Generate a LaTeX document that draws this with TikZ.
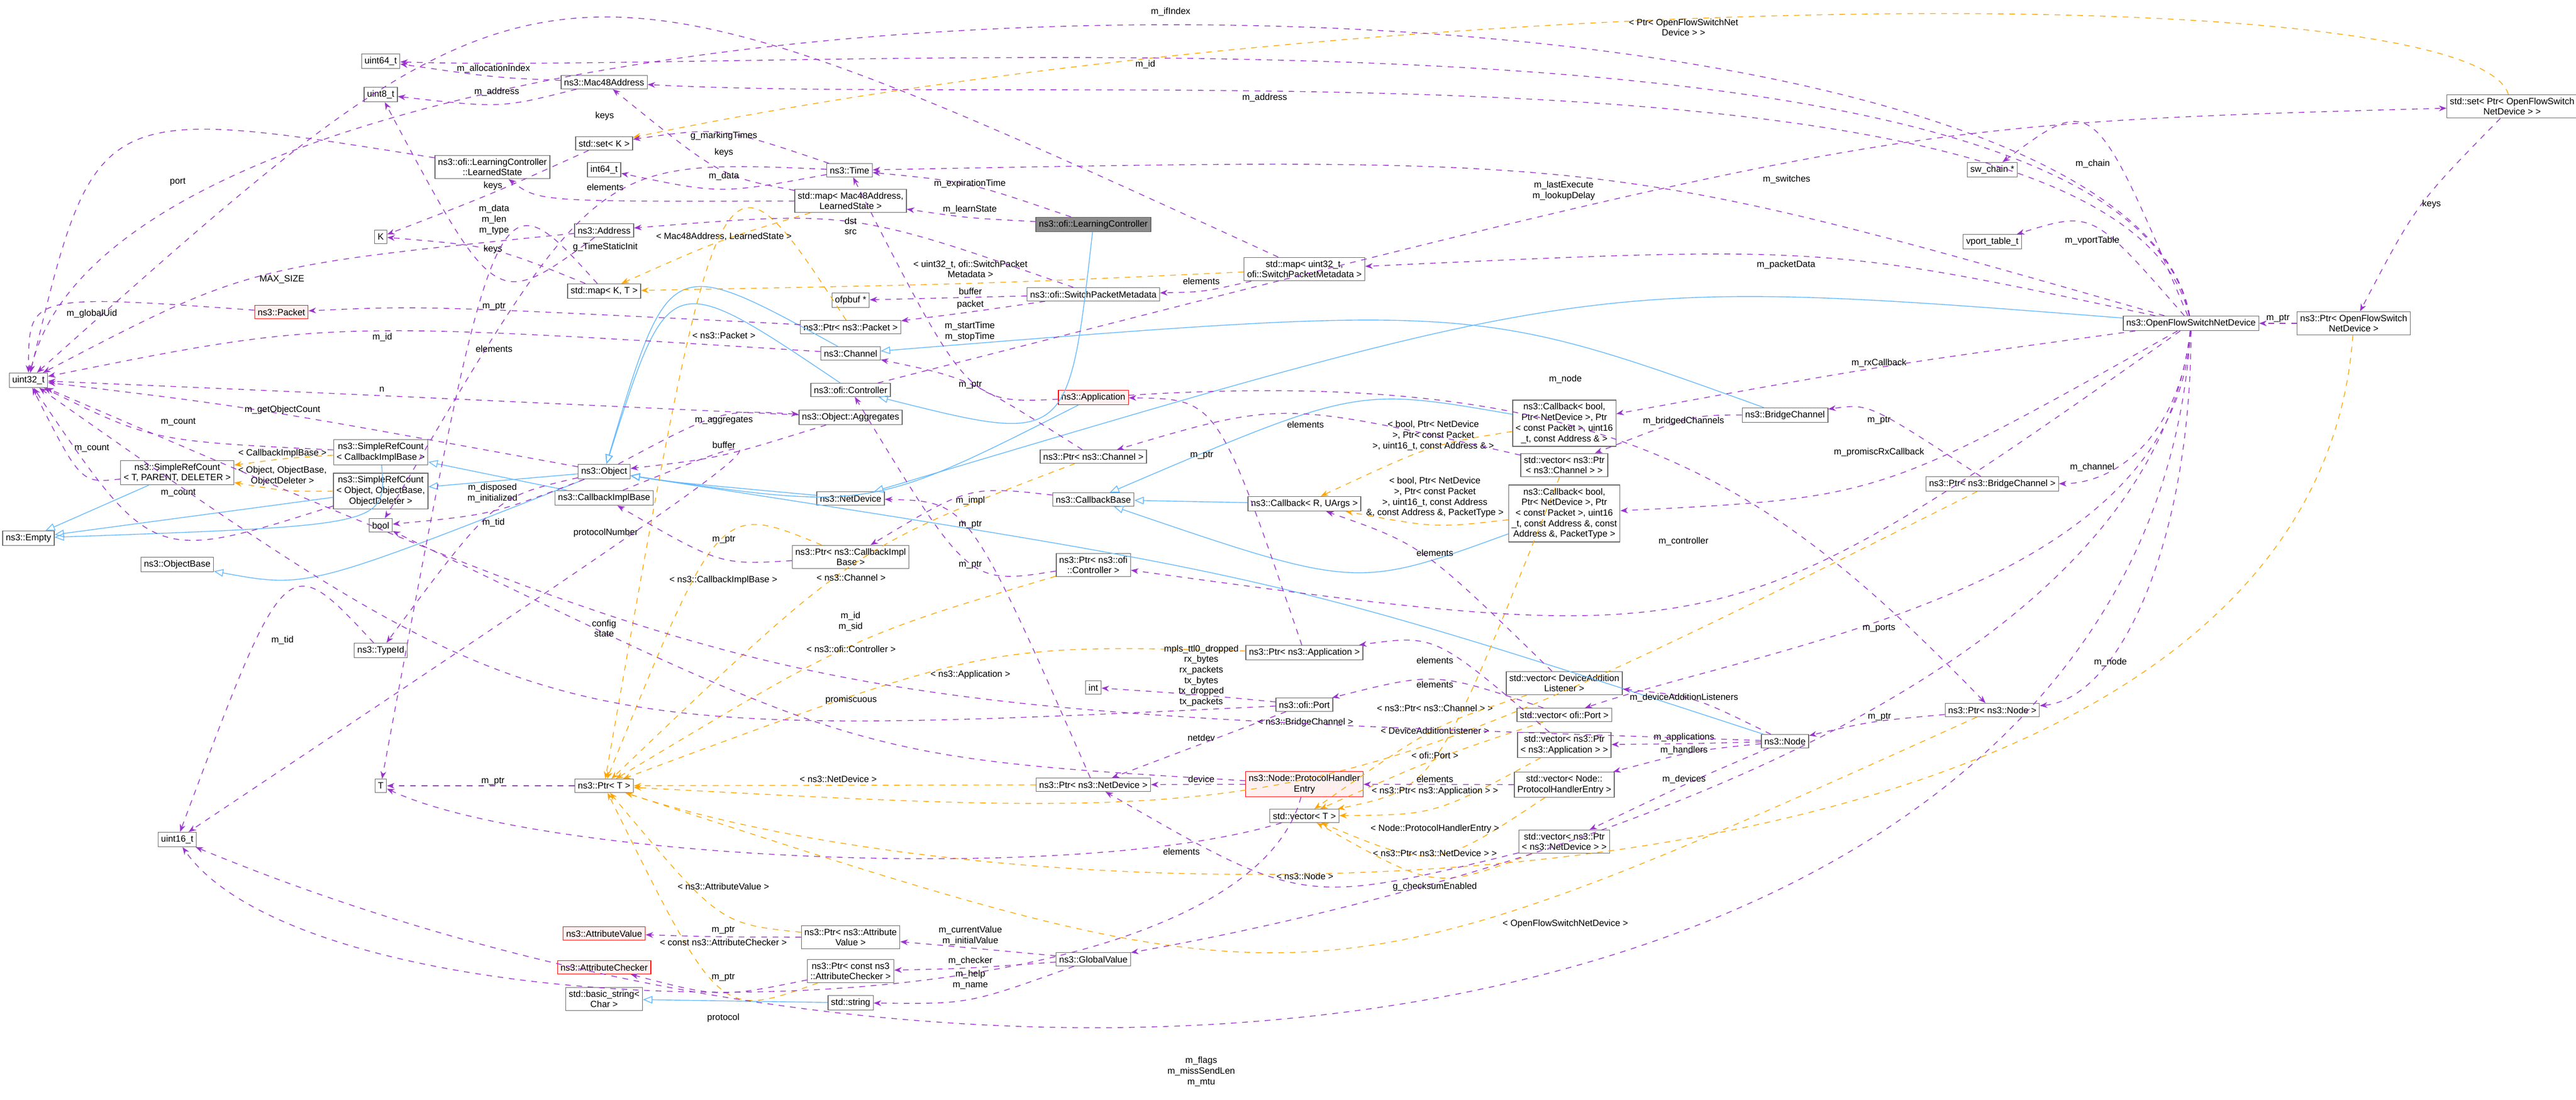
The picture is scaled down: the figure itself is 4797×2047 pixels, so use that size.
\documentclass[tikz,border=0pt]{standalone}
\usepackage{fontspec}
\setmainfont{Liberation Sans}
\usetikzlibrary{arrows.meta,calc}
\definecolor{pc}{HTML}{9A32CD}
\definecolor{oc}{HTML}{FFA500}
\definecolor{bc}{HTML}{63B8FF}
\newcommand\myed[6]{\draw[#1] (#2) .. controls ($2*(#4)-0.5*(#2)-0.5*(#3)$) .. (#3); \node[lb] at (#5) {#6};}
\newcommand\myen[4]{\draw[#1] (#2) .. controls ($2*(#4)-0.5*(#2)-0.5*(#3)$) .. (#3);}
\begin{document}
\begin{tikzpicture}[x=0.01cm,y=-0.01cm,
 every node/.style={font=\fontsize{4.8}{5.6}\selectfont},
 box/.style={draw=black!60,fill=white,inner sep=1.6pt,align=center,minimum height=7pt},
 redbox/.style={box,draw=red,fill=red!6},
 graybox/.style={box,fill=black!45},
 pe/.style={draw=pc,dashed,-{Stealth[length=4pt,width=3pt]}},
 oe/.style={draw=oc,dashed,-{Stealth[length=4pt,width=3pt]}},
 be/.style={draw=bc,-{Triangle[open,length=5pt,width=4pt]}},
 lb/.style={fill=none,align=center,inner sep=1pt}]
\useasboundingbox (0,0) rectangle (4797,2047);
% nodes
\node[box] (u64) at (709,114) {uint64\_t};
\node[box] (mac) at (1125,153) {ns3::Mac48Address};
\node[box] (u8) at (709,176) {uint8\_t};
\node[box] (setK) at (1125,267) {std::set< K >};
\node[box] (ls) at (917,311) {ns3::ofi::LearningController\\::LearnedState};
\node[box] (i64) at (1125,316) {int64\_t};
\node[box] (K) at (709,441) {K};
\node[box] (addr) at (1125,429) {ns3::Address};
\node[box] (mapKT) at (1125,542) {std::map< K, T >};
\node[redbox] (pkt) at (524,581) {ns3::Packet};
\node[box] (u32) at (53,708) {uint32\_t};
\node[box] (srcC) at (709,842) {ns3::SimpleRefCount\\< CallbackImplBase >};
\node[box] (srcT) at (330,880) {ns3::SimpleRefCount\\< T, PARENT, DELETER >};
\node[box] (srcO) at (709,914) {ns3::SimpleRefCount\\< Object, ObjectBase,\\ObjectDeleter >};
\node[box] (obj) at (1125,878) {ns3::Object};
\node[box] (cib) at (1125,927) {ns3::CallbackImplBase};
\node[box] (bool) at (709,978) {bool};
\node[box] (empty) at (53,1002) {ns3::Empty};
\node[box] (ob) at (330,1051) {ns3::ObjectBase};
\node[box] (tid) at (709,1211) {ns3::TypeId};
\node[box] (T) at (709,1463) {T};
\node[box] (ptrT) at (1125,1463) {ns3::Ptr< T >};
\node[box] (u16) at (330,1563) {uint16\_t};
\node[redbox] (av) at (1125,1738) {ns3::AttributeValue};
\node[redbox] (ac) at (1125,1801) {ns3::AttributeChecker};
\node[box] (bstr) at (1125,1860) {std::basic\_string<\\Char >};
\node[box] (time) at (1582,317) {ns3::Time};
\node[box] (mapML) at (1584,374) {std::map< Mac48Address,\\LearnedState >};
\node[graybox] (lc) at (2036,418) {ns3::ofi::LearningController};
\node[box] (mapUS) at (2429,501) {std::map< uint32\_t,\\ofi::SwitchPacketMetadata >};
\node[box] (ofp) at (1584,559) {ofpbuf *};
\node[box] (spm) at (2036,548) {ns3::ofi::SwitchPacketMetadata};
\node[box] (pPkt) at (1584,609) {ns3::Ptr< ns3::Packet >};
\node[box] (chan) at (1584,658) {ns3::Channel};
\node[box] (ctrl) at (1584,726) {ns3::ofi::Controller};
\node[box] (agg) at (1584,777) {ns3::Object::Aggregates};
\node[redbox] (app) at (2036,740) {ns3::Application};
\node[box] (pChan) at (2036,850) {ns3::Ptr< ns3::Channel >};
\node[box] (nd) at (1584,928) {ns3::NetDevice};
\node[box] (cbb) at (2036,930) {ns3::CallbackBase};
\node[box] (cbR) at (2429,938) {ns3::Callback< R, UArgs >};
\node[box] (pCib) at (1584,1037) {ns3::Ptr< ns3::CallbackImpl\\Base >};
\node[box] (pCtrl) at (2036,1052) {ns3::Ptr< ns3::ofi\\::Controller >};
\node[box] (pApp) at (2429,1215) {ns3::Ptr< ns3::Application >};
\node[box] (int) at (2036,1280) {int};
\node[box] (port) at (2429,1312) {ns3::ofi::Port};
\node[box] (setP) at (4678,198) {std::set< Ptr< OpenFlowSwitch\\NetDevice > >};
\node[box] (chain) at (3710,316) {sw\_chain *};
\node[box] (vport) at (3710,450) {vport\_table\_t};
\node[box] (ofs) at (4080,602) {ns3::OpenFlowSwitchNetDevice};
\node[box] (pOfs) at (4383,602) {ns3::Ptr< OpenFlowSwitch\\NetDevice >};
\node[box] (cb1) at (2913,788) {ns3::Callback< bool,\\Ptr< NetDevice >, Ptr\\< const Packet >, uint16\\\_t, const Address \& >};
\node[box] (bch) at (3324,773) {ns3::BridgeChannel};
\node[box] (vChan) at (2913,866) {std::vector< ns3::Ptr\\< ns3::Channel > >};
\node[box] (cb2) at (2913,956) {ns3::Callback< bool,\\Ptr< NetDevice >, Ptr\\< const Packet >, uint16\\\_t, const Address \&, const\\Address \&, PacketType >};
\node[box] (pBch) at (3710,901) {ns3::Ptr< ns3::BridgeChannel >};
\node[box] (vDal) at (2913,1272) {std::vector< DeviceAddition\\Listener >};
\node[box] (vPort) at (2913,1331) {std::vector< ofi::Port >};
\node[box] (vApp) at (2913,1387) {std::vector< ns3::Ptr\\< ns3::Application > >};
\node[box] (node) at (3324,1380) {ns3::Node};
\node[redbox] (phe) at (2429,1460) {ns3::Node::ProtocolHandler\\Entry};
\node[box] (pNd) at (2036,1461) {ns3::Ptr< ns3::NetDevice >};
\node[box] (vPhe) at (2913,1461) {std::vector< Node::\\ProtocolHandlerEntry >};
\node[box] (vT) at (2429,1519) {std::vector< T >};
\node[box] (vNd) at (2913,1567) {std::vector< ns3::Ptr\\< ns3::NetDevice > >};
\node[box] (gv) at (2036,1786) {ns3::GlobalValue};
\node[box] (pAv) at (1584,1745) {ns3::Ptr< ns3::Attribute\\Value >};
\node[box] (pAc) at (1584,1808) {ns3::Ptr< const ns3\\::AttributeChecker >};
\node[box] (str) at (1584,1867) {std::string};
\node[box] (pNode) at (3710,1322) {ns3::Ptr< ns3::Node >};

% blue inheritance
\myen{be}{lc}{ctrl}{1900,700}
\myen{be}{ctrl}{obj}{1300,650}
\myen{be}{chan}{obj}{1300,620}
\myen{be}{bch}{chan}{2600,640}
\myen{be}{ofs}{nd}{2900,640}
\myen{be}{nd}{obj}{1300,900}
\myen{be}{app}{obj}{1600,880}
\myen{be}{node}{obj}{2300,1100}
\draw[be] (obj) -- (srcO);
\myen{be}{obj}{ob}{650,1030}
\draw[be] (cib) -- (srcC);
\draw[be] (srcT) -- (empty);
\myen{be}{srcC}{empty}{550,950}
\draw[be] (srcO) -- (empty);
\draw[be] (cbR) -- (cbb);
\myen{be}{cb1}{cbb}{2500,790}
\myen{be}{cb2}{cbb}{2500,1020}
\draw[be] (str) -- (bstr);

% orange template edges
\draw[oe] (setP) .. controls (4600,-50) and (2500,-20) .. (setK); \node[lb] at (3135,51) {< Ptr< OpenFlowSwitchNet\\Device > >};
\myed{oe}{mapML}{mapKT}{1348,452}{1348,440}{< Mac48Address, LearnedState >}
\myed{oe}{mapUS}{mapKT}{1807,525}{1807,501}{< uint32\_t, ofi::SwitchPacket\\Metadata >}
\myed{oe}{pPkt}{ptrT}{1348,636}{1348,624}{< ns3::Packet >}
\myed{oe}{pChan}{ptrT}{1585,1088}{1585,1075}{< ns3::Channel >}
\myed{oe}{pCib}{ptrT}{1347,1093}{1347,1080}{< ns3::CallbackImplBase >}
\myed{oe}{pCtrl}{ptrT}{1585,1221}{1585,1208}{< ns3::ofi::Controller >}
\myed{oe}{pApp}{ptrT}{1807,1269}{1807,1256}{< ns3::Application >}
\draw[oe] (pNd) -- (ptrT); \node[lb] at (1561,1450) {< ns3::NetDevice >};
\myed{oe}{pBch}{ptrT}{2431,1358}{2431,1345}{< ns3::BridgeChannel >}
\myed{oe}{pNode}{ptrT}{2430,1643}{2430,1631}{< ns3::Node >}
\draw[oe] (pOfs) .. controls (4300,1750) and (2000,1750) .. (ptrT); \node[lb] at (2915,1720) {< OpenFlowSwitchNetDevice >};
\myed{oe}{pAv}{ptrT}{1347,1662}{1347,1650}{< ns3::AttributeValue >}
\myed{oe}{pAc}{ptrT}{1347,1766}{1347,1754}{< const ns3::AttributeChecker >}
\myed{oe}{vChan}{vT}{2672,1330}{2672,1318}{< ns3::Ptr< ns3::Channel > >}
\myed{oe}{vDal}{vT}{2672,1372}{2672,1360}{< DeviceAdditionListener >}
\myed{oe}{vPort}{vT}{2672,1418}{2672,1406}{< ofi::Port >}
\myed{oe}{vApp}{vT}{2672,1485}{2672,1473}{< ns3::Ptr< ns3::Application > >}
\myed{oe}{vPhe}{vT}{2672,1555}{2672,1543}{< Node::ProtocolHandlerEntry >}
\myed{oe}{vNd}{vT}{2672,1600}{2672,1588}{< ns3::Ptr< ns3::NetDevice > >}
\myed{oe}{cb1}{cbR}{2669,845}{2669,811}{< bool, Ptr< NetDevice\\>, Ptr< const Packet\\>, uint16\_t, const Address \& >}
\myed{oe}{cb2}{cbR}{2672,965}{2672,926}{< bool, Ptr< NetDevice\\>, Ptr< const Packet\\>, uint16\_t, const Address\\\&, const Address \&, PacketType >}
\myed{oe}{srcC}{srcT}{526,857}{526,844}{< CallbackImplBase >}
\myed{oe}{srcO}{srcT}{526,906}{526,886}{< Object, ObjectBase,\\ObjectDeleter >}

% purple member edges
\draw[pe] (ofs) .. controls (3950,-150) and (250,-150) .. (u32); \node[lb] at (2180,22) {m\_ifIndex};
\draw[pe] (ofs) .. controls (3950,-50) and (1500,140) .. (u64); \node[lb] at (2133,120) {m\_id};
\draw[pe] (ofs) .. controls (3950,50) and (2000,200) .. (mac); \node[lb] at (2355,182) {m\_address};
\myed{pe}{mac}{u64}{919,139}{919,128}{m\_allocationIndex}
\myed{pe}{mac}{u8}{925,183}{925,171}{m\_address}
\myed{pe}{ctrl}{setP}{3327,346}{3327,334}{m\_switches}
\myed{pe}{setP}{pOfs}{4515,390}{4528,380}{keys}
\draw[pe] (pOfs) -- (ofs); \node[lb] at (4242,593) {m\_ptr};
\myed{pe}{ofs}{chain}{3897,317}{3897,305}{m\_chain}
\myed{pe}{ofs}{time}{2912,375}{2912,355}{m\_lastExecute\\m\_lookupDelay}
\myed{pe}{ofs}{vport}{3896,459}{3896,448}{m\_vportTable}
\myed{pe}{ofs}{mapUS}{3326,504}{3326,493}{m\_packetData}
\myed{pe}{ofs}{cb1}{3499,688}{3499,676}{m\_rxCallback}
\myed{pe}{ofs}{cb2}{3499,853}{3499,842}{m\_promiscRxCallback}
\draw[pe] (ofs) .. controls (4060,800) and (3950,900) .. (pBch); \node[lb] at (3896,870) {m\_channel};
\myed{pe}{pBch}{bch}{3499,794}{3499,783}{m\_ptr}
\myed{pe}{bch}{vChan}{3135,796}{3135,784}{m\_bridgedChannels}
\myed{pe}{ofs}{pCtrl}{3135,1020}{3135,1008}{m\_controller}
\draw[pe] (ofs) .. controls (4050,1100) and (3300,1200) .. (vPort); \node[lb] at (3499,1170) {m\_ports};
\draw[pe] (ofs) .. controls (4080,1000) and (3950,1300) .. (pNode); \node[lb] at (3930,1233) {m\_node};
\draw[pe] (ofs) .. controls (4000,1900) and (2000,2250) .. (u16); \node[lb] at (2237,1995) {m\_flags\\m\_missSendLen\\m\_mtu};
\draw[pe] (ofs) .. controls (4000,1300) and (2800,1650) .. (gv); \node[lb] at (2672,1651) {g\_checksumEnabled};
\draw[pe] (app) .. controls (3000,680) and (3300,900) .. (pNode); \node[lb] at (2915,706) {m\_node};
\myed{pe}{pNode}{node}{3500,1347}{3500,1335}{m\_ptr}
\myed{pe}{node}{vDal}{3136,1311}{3136,1299}{m\_deviceAdditionListeners}
\myed{pe}{node}{vApp}{3136,1384}{3136,1373}{m\_applications}
\myed{pe}{node}{vPhe}{3136,1409}{3136,1397}{m\_handlers}
\myed{pe}{node}{vNd}{3136,1463}{3136,1451}{m\_devices}
\myed{pe}{node}{u32}{1584,1182}{1584,1157}{m\_id\\m\_sid}
\draw[pe] (phe) -- (pNd); \node[lb] at (2237,1450) {device};
\draw[pe] (phe) .. controls (2300,1950) and (600,1950) .. (u16); \node[lb] at (1347,1895) {protocol};
\myed{pe}{phe}{bool}{1585,1315}{1585,1303}{promiscuous}
\draw[pe] (vPhe) -- (phe); \node[lb] at (2672,1450) {elements};
\myed{pe}{vApp}{pApp}{2672,1241}{2672,1229}{elements}
\myed{pe}{vPort}{port}{2672,1286}{2672,1274}{elements}
\myen{pe}{vNd}{pNd}{2450,1600}
\myed{pe}{vChan}{pChan}{2431,802}{2431,790}{elements}
\myed{pe}{vDal}{cbR}{2660,1060}{2672,1029}{elements}
\myed{pe}{pApp}{app}{2250,860}{2238,848}{m\_ptr}
\myed{pe}{pNd}{nd}{1807,1064}{1807,1052}{m\_ptr}
\myed{pe}{pChan}{chan}{1807,729}{1807,717}{m\_ptr}
\myed{pe}{pCtrl}{ctrl}{1807,989}{1807,977}{m\_ptr}
\myed{pe}{pCib}{cib}{1348,1017}{1348,1005}{m\_ptr}
\myed{pe}{cbb}{pCib}{1807,944}{1807,932}{m\_impl}
\myed{pe}{port}{int}{2237,1295}{2237,1258}{mpls\_ttl0\_dropped\\rx\_bytes\\rx\_packets\\tx\_bytes\\tx\_dropped\\tx\_packets}
\myed{pe}{port}{pNd}{2237,1385}{2237,1373}{netdev}
\myed{pe}{port}{u32}{1125,1195}{1125,1170}{config\\state}
\myed{pe}{app}{time}{1806,640}{1806,617}{m\_startTime\\m\_stopTime}
\myed{pe}{lc}{time}{1806,353}{1806,342}{m\_expirationTime}
\myed{pe}{lc}{mapML}{1806,401}{1806,390}{m\_learnState}
\myed{pe}{mapML}{mac}{1348,296}{1348,284}{keys}
\myed{pe}{mapML}{ls}{1127,359}{1127,348}{elements}
\myed{pe}{ls}{u32}{331,351}{331,339}{port}
\myed{pe}{mapUS}{u32}{1126,228}{1126,216}{keys}
\myed{pe}{mapUS}{spm}{2237,534}{2237,523}{elements}
\draw[pe] (spm) -- (ofp); \node[lb] at (1807,542) {buffer};
\myed{pe}{spm}{pPkt}{1807,580}{1807,567}{packet}
\myed{pe}{spm}{addr}{1584,440}{1584,421}{dst\\src}
\myed{pe}{pPkt}{pkt}{920,582}{920,571}{m\_ptr}
\myed{pe}{pkt}{u32}{171,596}{171,584}{m\_globalUid}
\myed{pe}{addr}{u8}{920,440}{920,409}{m\_data\\m\_len\\m\_type}
\myed{pe}{addr}{u32}{525,532}{525,520}{MAX\_SIZE}
\myed{pe}{time}{i64}{1348,339}{1348,328}{m\_data}
\myed{pe}{time}{setK}{1348,264}{1348,253}{g\_markingTimes}
\myed{pe}{time}{bool}{1127,472}{1127,460}{g\_TimeStaticInit}
\myed{pe}{setK}{K}{918,357}{918,346}{keys}
\myed{pe}{mapKT}{K}{918,475}{918,464}{keys}
\myed{pe}{mapKT}{T}{920,660}{920,649}{elements}
\myed{pe}{chan}{u32}{712,640}{712,628}{m\_id}
\myed{pe}{obj}{u32}{526,775}{526,763}{m\_getObjectCount}
\myed{pe}{agg}{u32}{711,737}{711,725}{n}
\myed{pe}{obj}{agg}{1348,795}{1348,783}{m\_aggregates}
\myed{pe}{agg}{obj}{1348,840}{1348,828}{buffer}
\myed{pe}{srcC}{u32}{332,798}{332,786}{m\_count}
\myed{pe}{srcT}{u32}{171,847}{171,835}{m\_count}
\myed{pe}{srcO}{u32}{332,930}{332,918}{m\_count}
\myed{pe}{obj}{bool}{917,943}{917,918}{m\_disposed\\m\_initialized}
\myed{pe}{obj}{tid}{919,985}{919,973}{m\_tid}
\myed{pe}{cib}{u16}{1128,1004}{1128,992}{protocolNumber}
\myed{pe}{tid}{u16}{526,1204}{526,1192}{m\_tid}
\draw[pe] (ptrT) -- (T); \node[lb] at (918,1455) {m\_ptr};
\myed{pe}{pAv}{av}{1347,1743}{1347,1732}{m\_ptr}
\myed{pe}{pAc}{ac}{1347,1831}{1347,1820}{m\_ptr}
\myed{pe}{gv}{pAv}{1807,1765}{1807,1742}{m\_currentValue\\m\_initialValue}
\myed{pe}{gv}{pAc}{1807,1800}{1807,1789}{m\_checker}
\myed{pe}{gv}{str}{1807,1848}{1807,1824}{m\_help\\m\_name}
\draw[pe] (vT) .. controls (2000,1650) and (1000,1600) .. (T); \node[lb] at (2200,1585) {elements};
\end{tikzpicture}
\end{document}
